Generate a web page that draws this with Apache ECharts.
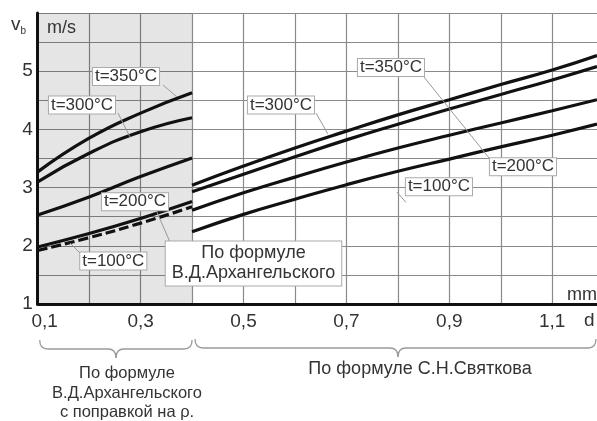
<!DOCTYPE html>
<html>
<head>
<meta charset="utf-8">
<script src="https://cdn.jsdelivr.net/npm/echarts@6/dist/echarts.min.js"></script>
<style>
  html, body { margin: 0; padding: 0; background: #fff; }
  #chart { width: 597px; height: 421px; }
</style>
</head>
<body>
<div id="chart"></div>
<script>
// d, mm
var dLeft = [0.1, 0.2, 0.3, 0.4];
var dRight = [0.4, 0.5, 0.6, 0.7, 0.8, 0.9, 1.0, 1.1, 1.187];

// v_b, m/s  -- left part (Arkhangelsky with density correction)
var v350Left = [3.27, 3.85, 4.28, 4.63];
var v300Left = [3.10, 3.59, 3.96, 4.20];
var v200Left = [2.53, 2.84, 3.19, 3.51];
var v100Left = [1.98, 2.21, 2.47, 2.76];
var vArkhLeft = [1.92, 2.14, 2.39, 2.67];   // dashed, plain Arkhangelsky

// right part (Svyatkov)
var v350Right = [3.04, 3.37, 3.68, 3.97, 4.25, 4.51, 4.77, 5.02, 5.27];
var v300Right = [2.93, 3.23, 3.53, 3.82, 4.09, 4.35, 4.60, 4.85, 5.08];
var v200Right = [2.61, 2.91, 3.18, 3.44, 3.68, 3.90, 4.11, 4.32, 4.51];
var v100Right = [2.24, 2.54, 2.80, 3.05, 3.28, 3.49, 3.70, 3.90, 4.09];

var FONT = '"Liberation Sans", Arial, sans-serif';
var TXT = '#333';

function pairs(xs, ys) {
  return xs.map(function (x, i) { return [x, ys[i]]; });
}

function curve(name, xs, ys, dashed) {
  return {
    name: name,
    type: 'line',
    smooth: 0.5,
    symbol: 'none',
    silent: true,
    lineStyle: { color: '#111', width: 3.2, type: dashed ? [10, 4] : 'solid' },
    data: pairs(xs, ys)
  };
}

// annotation boxes (data coords) and their leader lines
var labels = [
  { text: 't=350°C', at: [0.2716, 4.909] },
  { text: 't=300°C', at: [0.1861, 4.419] },
  { text: 't=200°C', at: [0.2891, 2.758] },
  { text: 't=100°C', at: [0.2469, 1.739] },
  { text: 't=350°C', at: [0.7866, 5.064] },
  { text: 't=300°C', at: [0.5728, 4.419] },
  { text: 't=200°C', at: [1.0431, 3.359] },
  { text: 't=100°C', at: [0.8798, 3.015] }
];
var leaders = [
  [[0.3435, 4.763], [0.3707, 4.557]],
  [[0.2560, 4.282], [0.2794, 3.869]],
  [[0.3299, 2.615], [0.3571, 2.065]],
  [[0.1628, 2.048], [0.1822, 1.876]],
  [[0.8491, 4.918], [0.9789, 3.491]],
  [[0.6408, 4.282], [0.6641, 3.921]],
  [[0.7981, 2.924], [0.8156, 2.746]]
];

var chart = echarts.init(document.getElementById('chart'));

chart.setOption({
  animation: false,
  backgroundColor: '#fff',
  grid: { left: 37.7, right: 0, top: 13, bottom: 117 },
  xAxis: {
    type: 'value',
    min: 0.1,
    max: 1.187,
    interval: 0.1,
    axisLine: { show: true, onZero: false, lineStyle: { color: '#111', width: 3 } },
    axisTick: { show: false },
    splitLine: { show: true, showMinLine: false, showMaxLine: false, lineStyle: { color: '#8a8a8a', width: 1.2 } },
    axisLabel: {
      margin: 8,
      fontSize: 19,
      fontFamily: FONT,
      color: TXT,
      showMaxLabel: false,
      formatter: function (v) {
        var k = Math.round(v * 10);
        if (k % 2 !== 1) return '';
        var s = (k / 10).toFixed(1).replace('.', ',');
        return k === 1 ? '{first|' + s + '}' : s;
      },
      rich: { first: { fontSize: 19, fontFamily: FONT, color: TXT, padding: [0, 0, 0, 14] } }
    }
  },
  yAxis: {
    type: 'value',
    min: 1,
    max: 6,
    interval: 0.5,
    axisLine: { show: true, lineStyle: { color: '#111', width: 3 } },
    axisTick: { show: false },
    splitLine: { show: true, showMinLine: false, lineStyle: { color: '#8a8a8a', width: 1.2 } },
    axisLabel: {
      margin: 5,
      fontSize: 19,
      fontFamily: FONT,
      color: TXT,
      padding: [6, 0, 0, 0],
      formatter: function (v) {
        return (v % 1 === 0 && v < 6) ? String(v) : '';
      }
    }
  },
  series: [
    Object.assign(curve('350L', dLeft, v350Left), {
      markArea: {
        silent: true,
        itemStyle: { color: 'rgba(0,0,0,0.1)' },
        data: [[{ xAxis: 0.1 }, { xAxis: 0.4 }]]
      }
    }),
    curve('300L', dLeft, v300Left),
    curve('200L', dLeft, v200Left),
    curve('100L', dLeft, v100Left),
    curve('arkh', dLeft, vArkhLeft, true),
    curve('350R', dRight, v350Right),
    curve('300R', dRight, v300Right),
    curve('200R', dRight, v200Right),
    curve('100R', dRight, v100Right)
  ]
});

function px(p) { return chart.convertToPixel({ gridIndex: 0 }, p); }

var g = [];
leaders.forEach(function (l) {
  var a = px(l[0]), b = px(l[1]);
  g.push({ type: 'line', z: 90, silent: true,
    shape: { x1: a[0], y1: a[1], x2: b[0], y2: b[1] },
    style: { stroke: '#999', lineWidth: 1 } });
});
labels.forEach(function (l) {
  var p = px(l.at);
  g.push({ type: 'text', z: 100, x: p[0], y: p[1], silent: true,
    style: { text: l.text, font: '17px ' + FONT, fill: TXT, align: 'center', verticalAlign: 'middle',
      backgroundColor: '#fff', borderColor: '#aaa', borderWidth: 1, padding: [0, 2] } });
});
var ab = px([0.5194, 1.696]);
g.push({ type: 'text', z: 100, x: ab[0], y: ab[1], silent: true,
  style: { text: 'По формуле\nВ.Д.Архангельского', font: '18px ' + FONT, fill: TXT, lineHeight: 20,
    align: 'center', verticalAlign: 'middle',
    backgroundColor: '#fff', borderColor: '#aaa', borderWidth: 1, padding: [2, 6] } });

// axis captions
g.push({ type: 'text', z: 100, x: 11, y: 14, silent: true,
  style: { text: '{v|v}{b|b}', rich: {
    v: { font: '19px ' + FONT, fill: TXT },
    b: { font: '10px ' + FONT, fill: TXT, padding: [12, 0, 0, 0] } } } });
g.push({ type: 'text', z: 100, x: 47, y: 19, silent: true,
  style: { text: 'm/s', font: '18px ' + FONT, fill: TXT } });
g.push({ type: 'text', z: 100, x: 597, y: 286, silent: true,
  style: { text: 'mm', font: '18px ' + FONT, fill: TXT, align: 'right' } });
g.push({ type: 'text', z: 100, x: 584, y: 311, silent: true,
  style: { text: 'd', font: '19px ' + FONT, fill: TXT } });

// braces under the axis, built from quadratic curves and straight pieces
function brace(x0, x1, xm, yTop) {
  var yh = yTop + 9, yt = yTop + 18, r = 8;
  var st = { stroke: '#9a9a9a', lineWidth: 1.3, fill: null };
  function q(a, b, c, d, cx, cy) {
    return { type: 'bezierCurve', z: 100, silent: true,
      shape: { x1: a, y1: b, x2: c, y2: d, cpx1: cx, cpy1: cy }, style: st };
  }
  function ln(a, b, c, d) {
    return { type: 'line', z: 100, silent: true,
      shape: { x1: a, y1: b, x2: c, y2: d }, style: st };
  }
  return [
    q(x0, yTop, x0 + r, yh, x0, yh),
    ln(x0 + r, yh, xm - r, yh),
    q(xm - r, yh, xm, yt, xm, yh),
    q(xm, yt, xm + r, yh, xm, yh),
    ln(xm + r, yh, x1 - r, yh),
    q(x1 - r, yh, x1, yTop, x1, yh)
  ];
}
var xa = px([0.1, 1])[0] + 2, xb = px([0.4, 1])[0], xc = 596;
g = g.concat(brace(xa, xb, 116, 340));
g = g.concat(brace(xb + 3, xc, 398, 339));

g.push({ type: 'text', z: 100, x: 127, y: 393, silent: true,
  style: { text: 'По формуле\nВ.Д.Архангельского\nс поправкой на ρ.', font: '16.5px ' + FONT,
    fill: TXT, lineHeight: 19.5, align: 'center', verticalAlign: 'middle' } });
g.push({ type: 'text', z: 100, x: 420, y: 369, silent: true,
  style: { text: 'По формуле С.Н.Святкова', font: '18px ' + FONT,
    fill: TXT, align: 'center', verticalAlign: 'middle' } });

chart.setOption({ graphic: g });
</script>
</body>
</html>
